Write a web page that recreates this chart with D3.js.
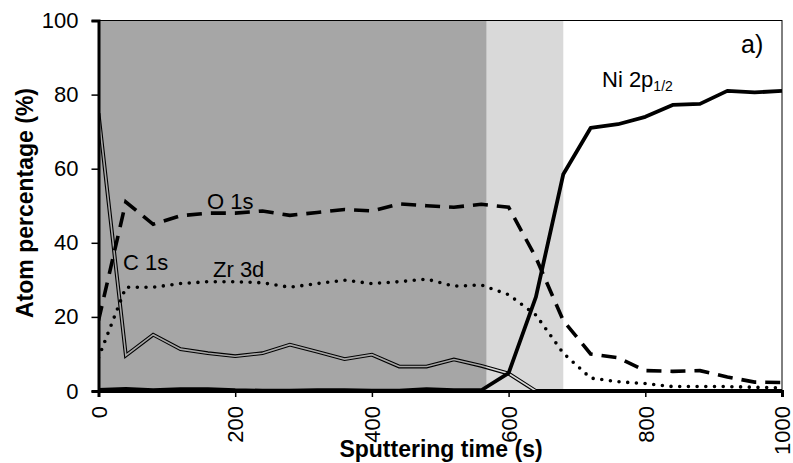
<!DOCTYPE html>
<html>
<head>
<meta charset="utf-8">
<script src="https://cdn.jsdelivr.net/npm/d3@7/dist/d3.min.js"></script>
<style>
  html, body { margin: 0; padding: 0; background: #fff; }
  svg { display: block; font-family: "Liberation Sans", Arial, sans-serif; }
</style>
</head>
<body>
<svg id="chart" width="793" height="463"></svg>
<script>
// Sputtering time (s), sampled every 40 s
const times = [0, 40, 80, 120, 160, 200, 240, 280, 320, 360, 400, 440, 480, 520, 560,
               600, 640, 680, 720, 760, 800, 840, 880, 920, 960, 1000];

// Atom percentage (%) per element
const c1s  = [75, 9.6, 15.2, 11.3, 10.2, 9.4, 10.2, 12.5, 10.6, 8.6, 9.8, 6.6, 6.6, 8.5, 6.8,
              4.7, 0, 0, 0, 0, 0, 0, 0, 0, 0, 0];
const o1s  = [19, 51, 45, 47.3, 48, 48, 48.6, 47.4, 48.2, 49, 48.6, 50.5, 50, 49.6, 50.4,
              49.6, 36, 19, 10, 9, 5.5, 5.3, 5.5, 3.8, 2.4, 2.3];
const zr3d = [9, 28, 28, 29, 29.5, 29.5, 29.2, 28, 29, 29.9, 29, 29.5, 30.2, 28.3, 28.6,
              26, 20.5, 10.2, 3.5, 2.5, 2, 1.2, 1.2, 1.2, 1, 0.8];
const ni2p = [0.3, 0.6, 0.2, 0.5, 0.5, 0.2, 0.1, 0.1, 0.2, 0.2, 0.1, 0.1, 0.5, 0.2, 0.2,
              4.8, 25.4, 58.5, 71, 72, 74, 77.2, 77.5, 81, 80.6, 81];

// Shaded depth zones (s)
const zones = [
  { from: 0,   to: 568, fill: "#a6a6a6" },
  { from: 568, to: 680, fill: "#d9d9d9" }
];

const xTicks = [0, 200, 400, 600, 800, 1000];
const yTicks = [0, 20, 40, 60, 80, 100];

const svg = d3.select("#chart");
const plotL = 98.5, plotR = 782, plotT = 20.5, plotB = 391;

const x = d3.scaleLinear().domain([0, 1000]).range([plotL, plotR]);
const y = d3.scaleLinear().domain([0, 100]).range([plotB, plotT]);

// zones
svg.selectAll("rect.zone").data(zones).enter().append("rect")
  .attr("class", "zone")
  .attr("x", d => x(d.from)).attr("y", plotT)
  .attr("width", d => x(d.to) - x(d.from)).attr("height", plotB - plotT)
  .attr("fill", d => d.fill);

// plot frame (top/right)
svg.append("rect")
  .attr("x", plotL).attr("y", plotT)
  .attr("width", plotR - plotL).attr("height", plotB - plotT)
  .attr("fill", "none").attr("stroke", "#000").attr("stroke-width", 1);

const line = vals => d3.line()
  .x((d, i) => x(times[i]))
  .y(d => y(d))(vals);

const defs = svg.append("defs");
defs.append("clipPath").attr("id", "plotClip").append("rect")
  .attr("x", plotL).attr("y", plotT - 2).attr("width", plotR - plotL + 1).attr("height", plotB - plotT + 4);

// double-line mask for C 1s: hollow centre
const mask = defs.append("mask").attr("id", "hollow")
  .attr("maskUnits", "userSpaceOnUse")
  .attr("x", 0).attr("y", 0).attr("width", 793).attr("height", 463);
mask.append("rect").attr("x", 0).attr("y", 0).attr("width", 793).attr("height", 463).attr("fill", "#fff");
mask.append("path").attr("d", line(c1s)).attr("fill", "none")
  .attr("stroke", "#000").attr("stroke-width", 1.6).attr("stroke-linejoin", "miter");

const g = svg.append("g").attr("clip-path", "url(#plotClip)");

g.append("path").attr("d", line(c1s))
  .attr("fill", "none").attr("stroke", "#000").attr("stroke-width", 3.8)
  .attr("stroke-linejoin", "miter").attr("mask", "url(#hollow)");

g.append("path").attr("d", line(zr3d))
  .attr("fill", "none").attr("stroke", "#000").attr("stroke-width", 3.6)
  .attr("stroke-linecap", "round").attr("stroke-dasharray", "0 8.7");

g.append("path").attr("d", line(o1s))
  .attr("fill", "none").attr("stroke", "#000").attr("stroke-width", 3.6)
  .attr("stroke-dasharray", "15 9");

g.append("path").attr("d", line(ni2p))
  .attr("fill", "none").attr("stroke", "#000").attr("stroke-width", 3.8)
  .attr("stroke-linejoin", "round");

// axes
const yAxis = d3.axisLeft(y).tickValues(yTicks).tickSize(7).tickPadding(13);
const ya = svg.append("g").attr("transform", `translate(${plotL},0)`).call(yAxis);
ya.select(".domain").attr("stroke-width", 3);
ya.selectAll(".tick line").attr("stroke-width", 1.5);
ya.selectAll(".tick text").attr("font-size", 22).attr("fill", "#000")
  .attr("font-family", "Liberation Sans, Arial, sans-serif");

const xAxis = d3.axisBottom(x).tickValues(xTicks).tickSize(6).tickFormat(d3.format("d"));
const xa = svg.append("g").attr("transform", `translate(0,${plotB})`).call(xAxis);
xa.select(".domain").attr("stroke-width", 3);
xa.selectAll(".tick line").attr("stroke-width", 1.5);
xa.selectAll(".tick text")
  .attr("font-size", 22).attr("fill", "#000")
  .attr("font-family", "Liberation Sans, Arial, sans-serif")
  .attr("text-anchor", "end")
  .attr("transform", "translate(0,15) rotate(-90)")
  .attr("x", 0).attr("y", 0).attr("dy", "0.35em");

// axis titles
svg.append("text")
  .attr("transform", "translate(25,203) rotate(-90)")
  .attr("text-anchor", "middle").attr("dy", "0.35em")
  .attr("font-size", 23).attr("font-weight", "bold")
  .text("Atom percentage (%)");

svg.append("text")
  .attr("x", 441).attr("y", 457)
  .attr("text-anchor", "middle")
  .attr("font-size", 23).attr("font-weight", "bold")
  .text("Sputtering time (s)");

// series labels
const lab = (tx, ty, t) => svg.append("text").attr("x", tx).attr("y", ty)
  .attr("font-size", 22).text(t);
lab(207, 209, "O 1s");
lab(123, 270, "C 1s");
lab(213, 276.5, "Zr 3d");
const ni = lab(602, 87, "Ni 2p");
ni.append("tspan").attr("font-size", 14).attr("dy", 4).text("1/2");

svg.append("text").attr("x", 741).attr("y", 53).attr("font-size", 25).text("a)");
</script>
</body>
</html>
